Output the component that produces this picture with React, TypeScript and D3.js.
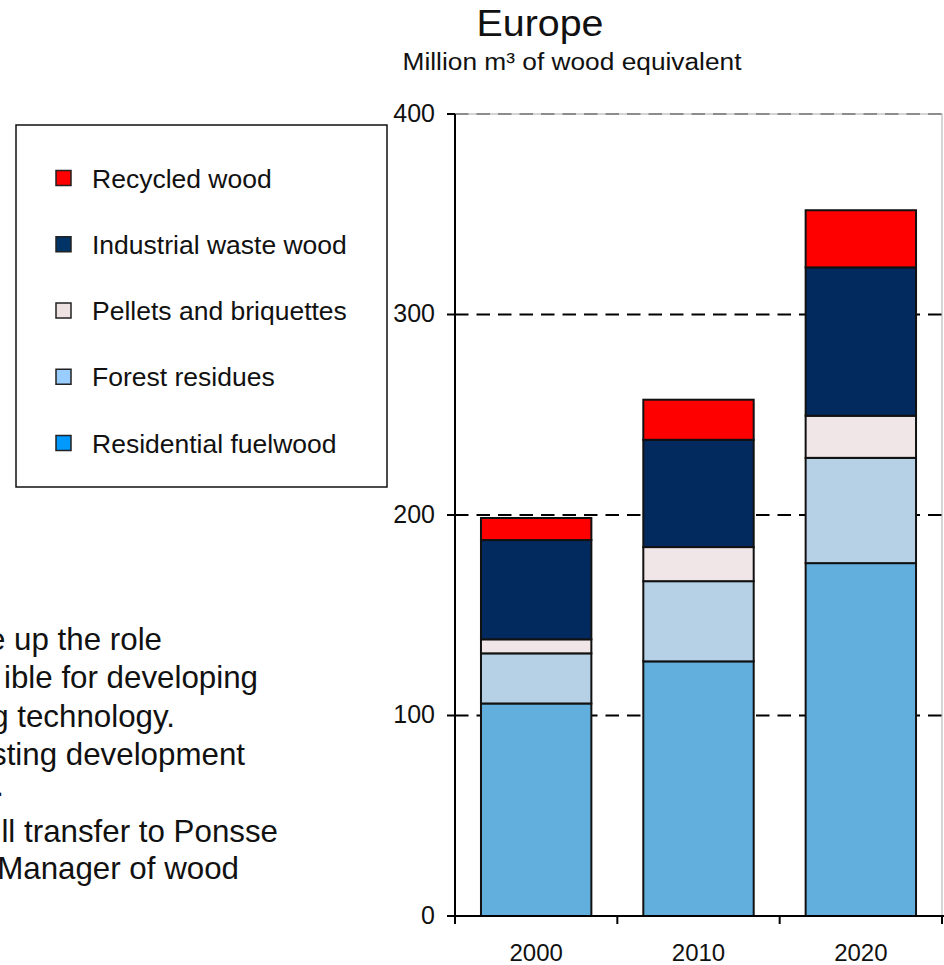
import * as d3 from "d3";

const years = ["2000", "2010", "2020"];
const residential = [106, 127, 176];
const forest = [25, 40, 52.5];
const pellets = [7, 17, 21];
const industrial = [49.5, 53.5, 74];
const recycled = [11, 20, 28.5];

const seriesNames = [
  "Residential fuelwood",
  "Forest residues",
  "Pellets and briquettes",
  "Industrial waste wood",
  "Recycled wood",
];
const yTicks = [0, 100, 200, 300, 400];

const noteLines = [
  "e up the role",
  "ible for developing",
  "g technology.",
  "sting development",
  ".",
  "ll transfer to Ponsse",
  "Manager of wood",
];

const BAR_COLORS = ["#62AEDC", "#B6D1E6", "#F0E6E8", "#022A5E", "#FF0000"];
const SWATCH_COLORS = ["#0099FF", "#99CCFF", "#EEE2E2", "#003366", "#FF0000"];

const W = 944;
const H = 965;
const FONT = "'Liberation Sans', Arial, sans-serif";

export default function App() {
  const rows = years.map((y, i) => ({
    year: y,
    [seriesNames[0]]: residential[i],
    [seriesNames[1]]: forest[i],
    [seriesNames[2]]: pellets[i],
    [seriesNames[3]]: industrial[i],
    [seriesNames[4]]: recycled[i],
  }));
  const stacked = d3.stack<any>().keys(seriesNames)(rows);

  const left = 455;
  const right = 942;
  const top = 114;
  const bottom = 916;

  const x = d3.scaleBand().domain(years).range([left, right]).paddingInner(0.32).paddingOuter(0.16);
  const y = d3.scaleLinear().domain([0, 400]).range([bottom, top]);
  const step = x.step();
  const boundaries = d3.range(years.length + 1).map((i) => left + i * step);

  // legend lists the top series first
  const legendOrder = seriesNames.map((_, i) => seriesNames.length - 1 - i);
  const legendY = d3.scalePoint<number>().domain(d3.range(5)).range([178, 443]);

  const noteRight = [162, 258, 175, 245, 4, 278, 239];
  const noteY = [650, 688, 727, 765, 796, 842, 879];

  return (
    <svg
      width={W}
      height={H}
      style={{ position: "absolute", left: 0, top: 0, background: "#fff" }}
      fontFamily={FONT}
    >
      {/* titles */}
      <text x={540} y={36} textAnchor="middle" fontSize={36} textLength={127}
        lengthAdjust="spacingAndGlyphs" fill="#111">
        Europe
      </text>
      <text x={572} y={70} textAnchor="middle" fontSize={23.5} textLength={339}
        lengthAdjust="spacingAndGlyphs" fill="#111">
        Million m³ of wood equivalent
      </text>

      {/* slide text cut off at the left edge */}
      {noteLines.map((t, i) => (
        <text key={i} x={noteRight[i]} y={noteY[i]} textAnchor="end" fontSize={31.3} fill="#111">
          {t}
        </text>
      ))}

      {/* plot frame and grid */}
      <rect x={left} y={top} width={right - left} height={bottom - top} fill="#fff" stroke="#aaa" strokeWidth={1} />
      <line x1={left} x2={right} y1={y(400)} y2={y(400)} stroke="#444" strokeWidth={1} strokeDasharray="13.5 8" />
      {yTicks.filter((t) => t > 0 && t < 400).map((t) => (
        <line key={t} x1={left} x2={W} y1={y(t)} y2={y(t)} stroke="#000" strokeWidth={2} strokeDasharray="13.5 8" />
      ))}

      {/* stacked bars */}
      {stacked.map((s, si) =>
        s.map((d, i) => (
          <rect
            key={`${si}-${i}`}
            x={x(years[i])}
            y={y(d[1])}
            width={x.bandwidth()}
            height={y(d[0]) - y(d[1])}
            fill={BAR_COLORS[si]}
            stroke="#111"
            strokeWidth={2}
          />
        ))
      )}

      {/* axes */}
      <line x1={left} x2={left} y1={top} y2={bottom + 8} stroke="#000" strokeWidth={2} />
      {yTicks.map((t) => (
        <g key={t}>
          <line x1={left - 8} x2={left} y1={y(t)} y2={y(t)} stroke="#000" strokeWidth={2} />
          <text x={435} y={y(t)} dy="0.3em" textAnchor="end" fontSize={25} fill="#111">
            {t}
          </text>
        </g>
      ))}
      <line x1={left - 8} x2={W} y1={bottom} y2={bottom} stroke="#000" strokeWidth={2} />
      {boundaries.map((bx, i) => (
        <line key={i} x1={bx} x2={bx} y1={bottom} y2={bottom + 8} stroke="#000" strokeWidth={2} />
      ))}
      {years.map((yr) => (
        <text key={yr} x={(x(yr) ?? 0) + x.bandwidth() / 2} y={961} textAnchor="middle" fontSize={24} fill="#111">
          {yr}
        </text>
      ))}

      {/* legend */}
      <rect x={16} y={125} width={371} height={362} fill="#fff" stroke="#111" strokeWidth={1.5} />
      {legendOrder.map((si, i) => (
        <g key={si}>
          <rect x={56} y={legendY(i)! - 7.5} width={15} height={15} fill={SWATCH_COLORS[si]} stroke="#222" strokeWidth={1.5} />
          <text x={92} y={legendY(i)! + 9.5} fontSize={26.5} fill="#111">
            {seriesNames[si]}
          </text>
        </g>
      ))}
    </svg>
  );
}
